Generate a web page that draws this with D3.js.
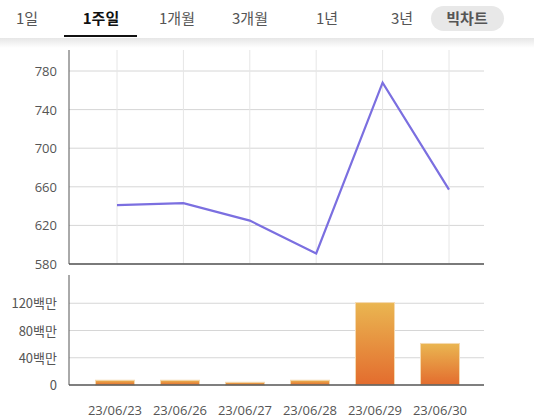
<!DOCTYPE html>
<html><head><meta charset="utf-8">
<script src="https://cdn.jsdelivr.net/npm/d3@7"></script>
<style>body{margin:0;background:#fff;font-family:"Noto Sans CJK KR","Noto Sans",sans-serif;}</style>
</head><body><div id="chart"></div>
<script>
var tabs = ['1일', '1주일', '1개월', '3개월', '1년', '3년'];
var tabX = [27, 101, 177, 250, 327, 402];
var dates = ['23/06/23', '23/06/26', '23/06/27', '23/06/28', '23/06/29', '23/06/30'];
var prices = [641, 643, 625, 591, 768, 657];
var volumes = [7, 7, 4, 7, 121, 61];
var priceTicks = [580, 620, 660, 700, 740, 780];
var volTicks = [0, 40, 80, 120];

var svg = d3.select('#chart').append('svg').attr('width', 534).attr('height', 420);
var defs = svg.append('defs');
var grad = defs.append('linearGradient').attr('id', 'bg').attr('x1', 0).attr('x2', 0).attr('y1', 0).attr('y2', 1);
grad.append('stop').attr('offset', '0%').attr('stop-color', '#eab651');
grad.append('stop').attr('offset', '100%').attr('stop-color', '#e36c2e');
var sh = defs.append('linearGradient').attr('id', 'sh').attr('x1', 0).attr('x2', 0).attr('y1', 0).attr('y2', 1);
sh.append('stop').attr('offset', '0%').attr('stop-color', '#e6e6e6');
sh.append('stop').attr('offset', '100%').attr('stop-color', '#fff');

// header
svg.append('rect').attr('x', 0).attr('y', 38).attr('width', 534).attr('height', 10).attr('fill', 'url(#sh)');
svg.append('rect').attr('x', 431).attr('y', 6).attr('width', 73).attr('height', 25).attr('rx', 12.5).attr('fill', '#e8e8e8');
svg.append('text').attr('x', 467).attr('y', 24).attr('text-anchor', 'middle').attr('font-size', 15)
  .attr('font-weight', 'bold').attr('fill', '#555').text('빅차트');
svg.selectAll('.tab').data(tabs).enter().append('text')
  .attr('x', (d, i) => tabX[i]).attr('y', 24).attr('text-anchor', 'middle').attr('font-size', 15)
  .attr('font-weight', (d, i) => i == 1 ? 'bold' : 'normal')
  .attr('fill', (d, i) => i == 1 ? '#111' : '#555').text(d => d);
svg.append('rect').attr('x', 64).attr('y', 35).attr('width', 73).attr('height', 2).attr('fill', '#111');

var left = 69, right = 484;
var x = d3.scalePoint().domain(dates).range([117, 449]);
var xb = d3.scalePoint().domain(dates).range([115, 440]);

// price panel
var y = d3.scaleLinear().domain([580, 780]).range([264, 71]);
var g1 = svg.append('g');
g1.selectAll('.hg').data(priceTicks).enter().append('line')
  .attr('x1', left).attr('x2', right).attr('y1', d => y(d)).attr('y2', d => y(d)).attr('stroke', '#d6d6d6');
g1.selectAll('.vg').data(dates).enter().append('line')
  .attr('x1', d => x(d)).attr('x2', d => x(d)).attr('y1', 50).attr('y2', 264).attr('stroke', '#e6e6e6');
g1.selectAll('.yl').data(priceTicks).enter().append('text')
  .attr('x', 57).attr('y', d => y(d) + 5).attr('text-anchor', 'end').attr('font-size', 13).attr('fill', '#555')
  .attr('font-family', 'Open Sans').text(d => d);
g1.append('line').attr('x1', left).attr('x2', left).attr('y1', 50).attr('y2', 264).attr('stroke', '#555');
g1.append('line').attr('x1', left).attr('x2', right).attr('y1', 264).attr('y2', 264).attr('stroke', '#555').attr('stroke-width', 1.5);
g1.append('path').datum(prices)
  .attr('d', d3.line().x((d, i) => x(dates[i])).y(d => y(d)))
  .attr('fill', 'none').attr('stroke', '#7b6fe0').attr('stroke-width', 2.2);

// volume panel
var yv = d3.scaleLinear().domain([0, 160]).range([385, 276]);
var g2 = svg.append('g');
g2.selectAll('.hg').data(volTicks.slice(1)).enter().append('line')
  .attr('x1', left).attr('x2', right).attr('y1', d => yv(d)).attr('y2', d => yv(d)).attr('stroke', '#d6d6d6');
g2.selectAll('.yl').data(volTicks).enter().append('text')
  .attr('x', 57).attr('y', d => yv(d) + 5).attr('text-anchor', 'end').attr('font-size', 13).attr('fill', '#555')
  .text(d => d == 0 ? '0' : d + '백만');
g2.selectAll('.bar').data(volumes).enter().append('rect')
  .attr('x', (d, i) => xb(dates[i]) - 19.5).attr('width', 39)
  .attr('y', d => yv(d)).attr('height', d => yv(0) - yv(d))
  .attr('fill', 'url(#bg)').attr('stroke', '#f5d9b0').attr('stroke-width', 1);
g2.append('line').attr('x1', left).attr('x2', left).attr('y1', 275).attr('y2', 385).attr('stroke', '#555');
g2.append('line').attr('x1', left).attr('x2', right).attr('y1', 385).attr('y2', 385).attr('stroke', '#555').attr('stroke-width', 1.5);
g2.selectAll('.xl').data(dates).enter().append('text')
  .attr('x', d => xb(d)).attr('y', 415).attr('text-anchor', 'middle').attr('font-size', 13).attr('fill', '#555')
  .attr('font-family', 'Open Sans').text(d => d);
</script></body></html>
